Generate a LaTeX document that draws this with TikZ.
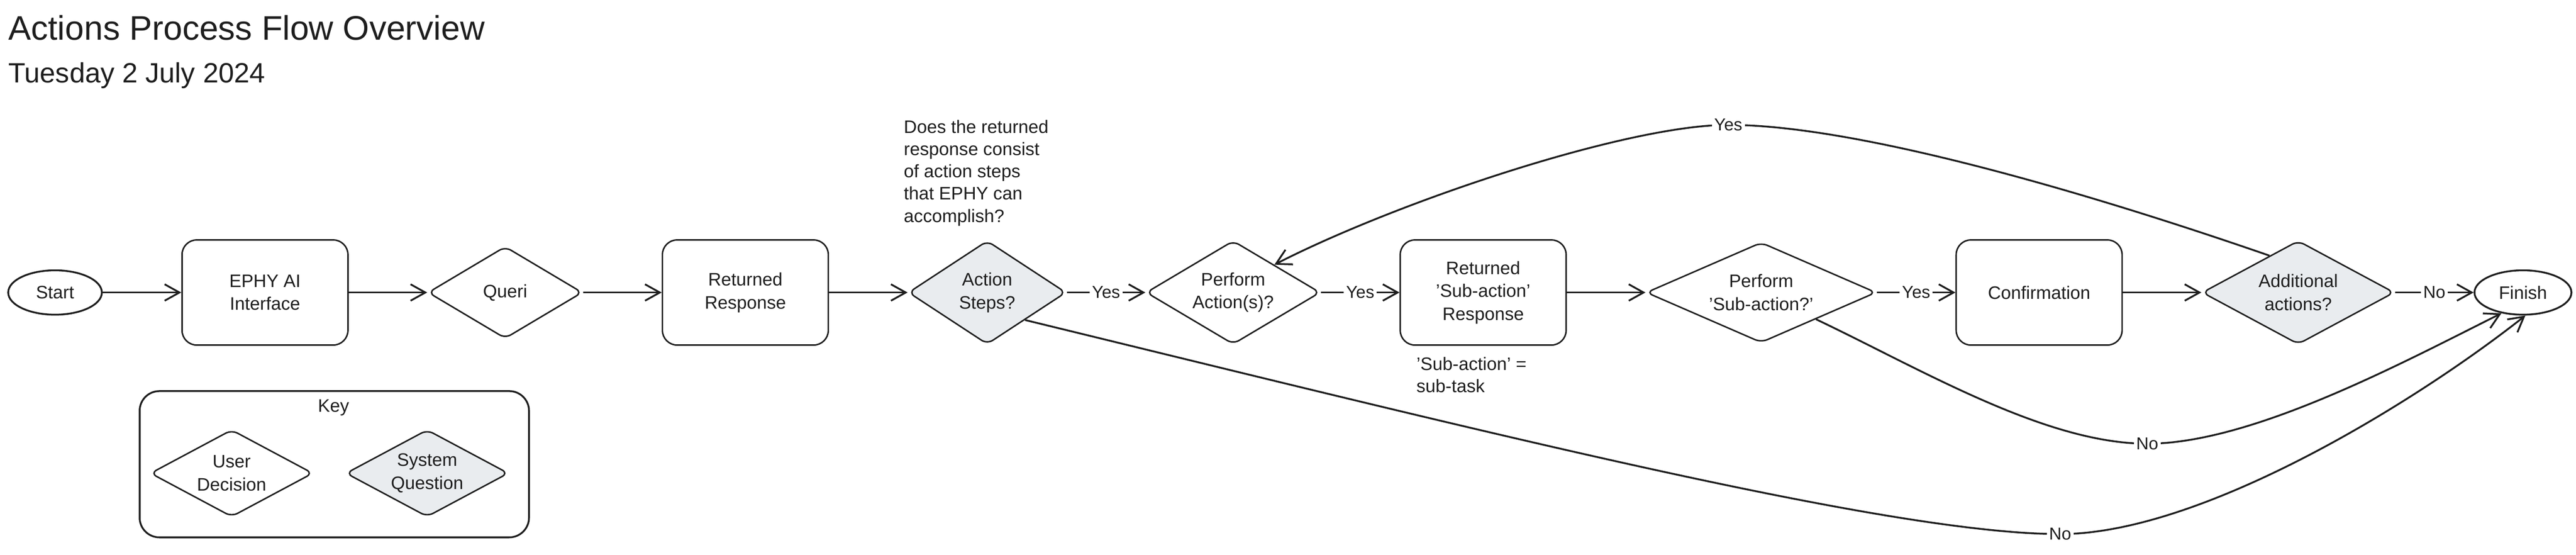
\documentclass[tikz,border=0pt]{standalone}
\usepackage{fontspec}
\setmainfont{Liberation Sans}
\usetikzlibrary{positioning}
\usetikzlibrary{arrows.meta}
\usetikzlibrary{shapes.geometric}
\definecolor{ink}{RGB}{30,30,30}
\definecolor{sysgray}{RGB}{233,236,239}

\begin{document}
\begin{tikzpicture}
				[x=1pt, y=-1pt,
					every node/.style={font=\fontsize{11}{14}\selectfont, text=ink},
					box/.style={rectangle, rounded corners=9pt, draw=ink, line width=0.9pt, minimum width=101pt, minimum height=64pt, align=center},
					term/.style={ellipse, draw=ink, line width=1.1pt, minimum height=27pt, inner sep=0pt},
					decision/.style={diamond, draw=ink, line width=0.9pt, rounded corners=4pt, minimum height=63pt, inner sep=0pt},
					question/.style={decision, fill=sysgray},
					inside/.style={align=center},
					yn/.style={fill=white, inner sep=1.5pt, font=\fontsize{10.5}{12}\selectfont},
					connect/.style={line width=1.1pt, draw=ink, -{Straight Barb[length=9pt, width=10pt]}},
				node distance=47.8pt]
				\useasboundingbox (0,0) rectangle (1568,337.5);
				\node (title) [anchor=west, inner sep=0pt, font=\fontsize{20.7}{24}\selectfont] at (5,17) {Actions Process Flow Overview};
				\node (date) [anchor=west, inner sep=0pt, font=\fontsize{17}{20}\selectfont] at (5,46) {Tuesday 2 July 2024};
				\node (start) [term, minimum width=57pt] at (33.5,178) {Start};
				\node (ephy) [box, right=of start] {EPHY AI\\Interface};
				\node (queri) [decision, minimum width=94pt, minimum height=56pt, right=of ephy, label={[inside]center:Queri}] {};
				\node (resp) [box, right=of queri] {Returned\\Response};
				\node (astep) [question, minimum width=96pt, right=of resp, label={[inside]center:{Action\\Steps?}}] {};
				\node (pact) [decision, minimum width=106pt, right=of astep, label={[inside]center:{Perform\\Action(s)?}}] {};
				\node (subresp) [box, right=of pact] {Returned\\'Sub-action'\\Response};
				\node (psub) [decision, minimum width=140pt, minimum height=61pt, right=of subresp, label={[inside]center:{Perform\\'Sub-action?'}}] {};
				\node (conf) [box, right=of psub] {Confirmation};
				\node (addl) [question, minimum width=117pt, right=of conf, label={[inside]center:{Additional\\actions?}}] {};
				\node (finish) [term, minimum width=59pt, right=of addl] {Finish};
				\node (note) [anchor=north west, inner sep=0pt, align=left, font=\fontsize{11}{13.5}\selectfont] at (550,73) {Does the returned\\response consist\\of action steps\\that EPHY can\\accomplish?};
				\node (subnote) [anchor=north west, inner sep=0pt, align=left, font=\fontsize{11}{13.5}\selectfont] at (862,217) {'Sub-action' =\\sub-task};
				\draw [connect] (start) -- (ephy);
				\draw [connect] (ephy) -- (queri);
				\draw [connect] (queri) -- (resp);
				\draw [connect] (resp) -- (astep);
				\draw [connect] (astep) -- node [yn] {Yes} (pact);
				\draw [connect] (pact) -- node [yn] {Yes} (subresp);
				\draw [connect] (subresp) -- (psub);
				\draw [connect] (psub) -- node [yn] {Yes} (conf);
				\draw [connect] (conf) -- (addl);
				\draw [connect] (addl) -- node [yn] {No} (finish);
				\draw [connect] (addl.128) .. controls (1270,117) and (1130,76) .. (1052,76) node [yn] {Yes}
					.. controls (990,76) and (850,123) .. (pact.34);
				\draw [connect] (psub.-26) .. controls (1170,225) and (1245,270) .. (1307,270) node [yn] {No}
					.. controls (1370,270) and (1460,222) .. (finish.-136);
				\draw [connect] (astep.-36) .. controls (900,262) and (1150,325) .. (1254,325) node [yn] {No}
					.. controls (1340,325) and (1470,245) .. (finish.-84);
				\node (key) [draw=ink, line width=1.1pt, rounded corners=12pt, minimum width=237pt, minimum height=89pt] at (203.5,282.5) {};
				\node (keytitle) at (203,248) {Key};
				\node (user) [decision, minimum width=99pt, minimum height=53pt, label={[inside]center:{User\\Decision}}] at (141,288) {};
				\node (system) [question, minimum width=99pt, minimum height=53pt, label={[inside]center:{System\\Question}}] at (260,288) {};
			\end{tikzpicture}
\end{document}
